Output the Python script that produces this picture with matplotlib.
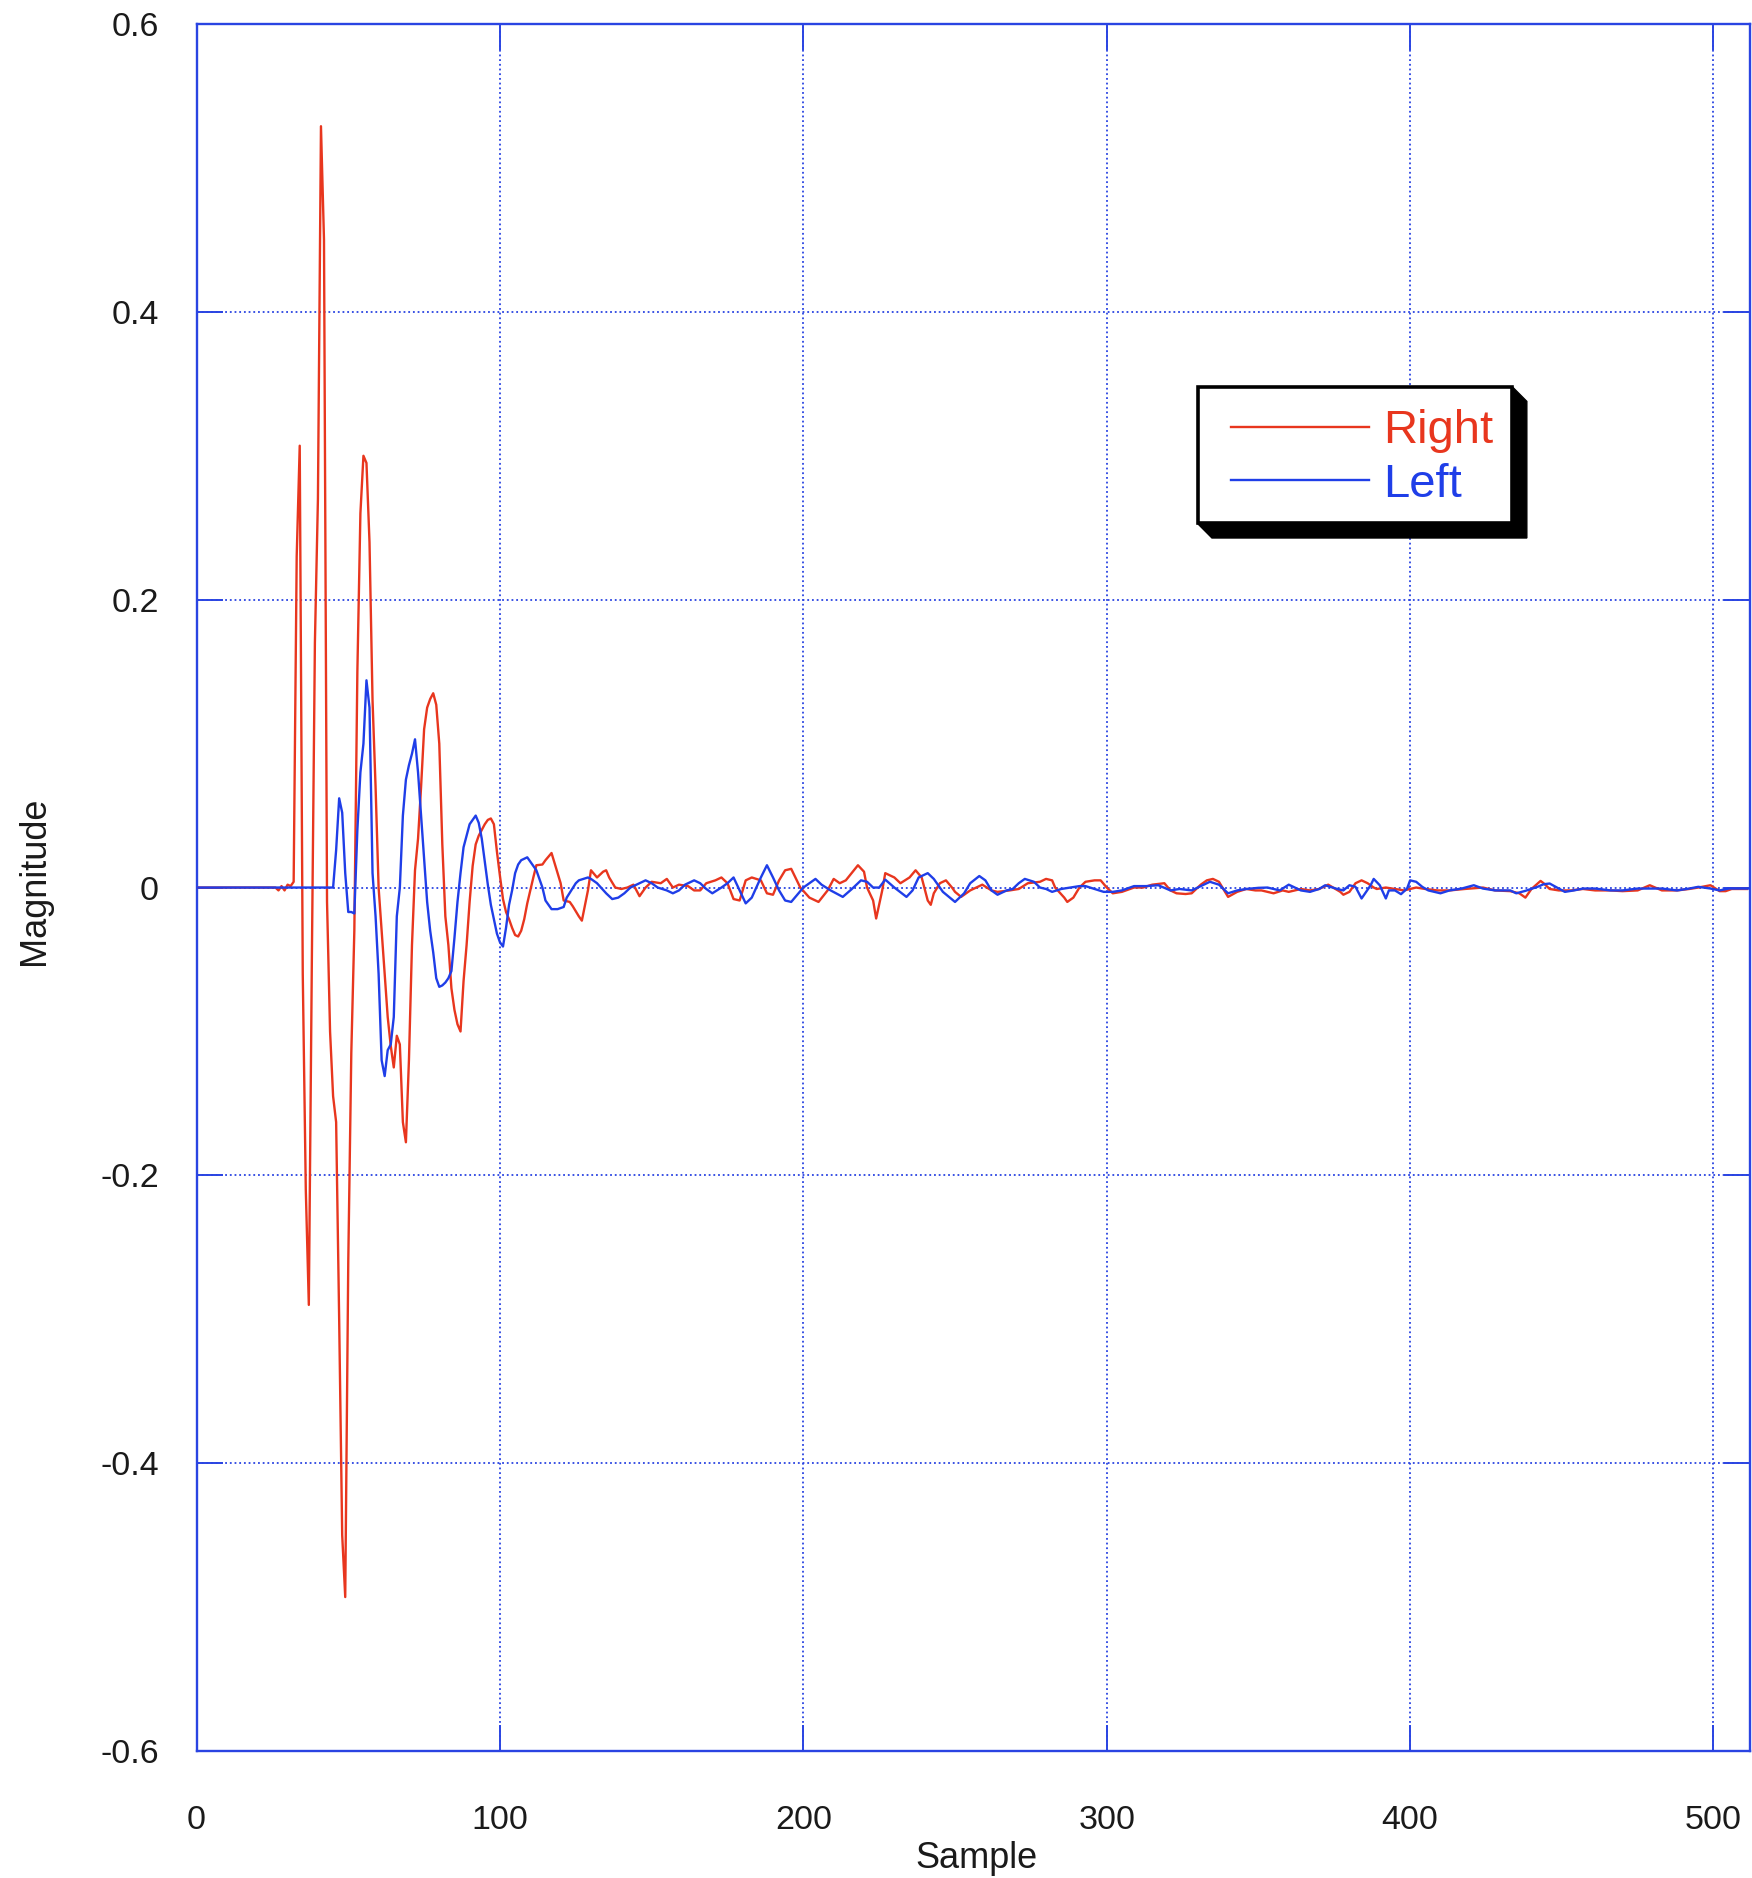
import matplotlib
matplotlib.use("Agg")
import matplotlib.pyplot as plt
from matplotlib.patches import Polygon, Rectangle

plt.rcParams['font.family'] = ['Liberation Sans', 'DejaVu Sans']
plt.rcParams['axes.unicode_minus'] = False

# ---------------- data (vertex points) ----------------
right_x = [0, 26, 27, 28, 29, 30, 31, 32, 33, 34, 35, 36, 37, 38, 39, 40, 41, 42, 43, 44,
           45, 46, 47, 48, 49, 50, 51, 52, 53, 54, 55, 56, 57, 58, 59, 60, 61, 62, 63, 64,
           65, 66, 67, 68, 69, 70, 71, 72, 73, 74, 75, 76, 77, 78, 79, 80, 81, 82, 83, 84,
           85, 86, 87, 88, 89, 90, 91, 92, 93, 94, 95, 96, 97, 98, 99, 100, 101, 102, 103, 104,
           105, 106, 107, 108, 109, 110, 111, 112, 114, 115, 117, 118, 120, 121, 123, 124, 126, 127, 129, 130,
           132, 134, 135, 136, 138, 140, 142, 144, 146, 148, 150, 153, 155, 157, 159, 162, 164, 166, 168, 171,
           173, 175, 177, 179, 181, 183, 186, 188, 190, 192, 194, 196, 199, 202, 205, 208, 210, 212, 214, 218,
           220, 221, 223, 224, 226, 227, 230, 232, 235, 237, 239, 241, 242, 243, 245, 247, 249, 250, 252, 255,
           257, 259, 262, 264, 268, 271, 274, 278, 280, 282, 283, 286, 287, 289, 291, 293, 296, 298, 300, 302,
           305, 309, 312, 315, 319, 321, 323, 326, 328, 331, 333, 335, 337, 339, 340, 343, 346, 349, 351, 355,
           358, 360, 364, 367, 370, 373, 377, 378, 380, 382, 384, 386, 388, 389, 392, 395, 398, 400, 402, 405,
           409, 413, 418, 424, 428, 433, 436, 438, 440, 443, 444, 446, 449, 453, 457, 461, 466, 470, 475, 479,
           483, 488, 492, 495, 499, 502, 504, 506, 511]
right_y = [0.0, 0.0, -0.002, 0.001, -0.002, 0.002, 0.001, 0.004, 0.23, 0.307, -0.06, -0.21, -0.29, -0.05, 0.17, 0.27, 0.529, 0.45, -0.01, -0.10,
           -0.145, -0.163, -0.30, -0.45, -0.493, -0.26, -0.115, -0.03, 0.15, 0.26, 0.30, 0.295, 0.24, 0.13, 0.07, 0.0, -0.03, -0.06, -0.09, -0.11,
           -0.125, -0.103, -0.109, -0.163, -0.177, -0.12, -0.04, 0.012, 0.034, 0.07, 0.11, 0.125, 0.131, 0.135, 0.127, 0.10, 0.03, -0.02, -0.04, -0.07,
           -0.085, -0.095, -0.1, -0.065, -0.04, -0.01, 0.015, 0.03, 0.036, 0.04, 0.044, 0.047, 0.048, 0.044, 0.025, 0.008, -0.008, -0.017, -0.022, -0.028,
           -0.033, -0.034, -0.03, -0.022, -0.011, -0.002, 0.007, 0.0155, 0.016, 0.019, 0.024, 0.017, 0.003, -0.009, -0.01, -0.013, -0.02, -0.023, -0.002, 0.012,
           0.007, 0.011, 0.012, 0.007, 0.0, -0.001, 0.0, 0.002, -0.006, 0.0, 0.004, 0.003, 0.006, 0.0, 0.002, 0.001, -0.002, -0.002, 0.003, 0.005,
           0.007, 0.003, -0.008, -0.009, 0.005, 0.007, 0.005, -0.004, -0.005, 0.005, 0.012, 0.013, 0.0, -0.007, -0.01, -0.002, 0.006, 0.003, 0.005, 0.0155,
           0.011, 0.0, -0.009, -0.0215, -0.002, 0.01, 0.007, 0.003, 0.007, 0.012, 0.007, -0.009, -0.012, -0.004, 0.003, 0.005, 0.0, -0.003, -0.0065, -0.002,
           0.0, 0.002, -0.002, -0.003, -0.002, -0.001, 0.003, 0.004, 0.006, 0.005, 0.0, -0.007, -0.01, -0.007, 0.0, 0.004, 0.005, 0.005, 0.0, -0.004,
           -0.003, 0.0, 0.0, 0.002, 0.003, -0.002, -0.004, -0.0045, -0.004, 0.002, 0.005, 0.006, 0.004, -0.003, -0.0065, -0.003, -0.001, -0.002, -0.002, -0.004,
           -0.002, -0.003, -0.001, -0.002, -0.001, 0.002, -0.003, -0.005, -0.003, 0.003, 0.005, 0.003, 0.0, -0.001, 0.0, -0.001, -0.002, -0.001, 0.0, -0.001,
           -0.002, -0.002, -0.001, 0.0, -0.002, -0.0025, -0.004, -0.007, -0.001, 0.0046, 0.003, -0.001, -0.002, -0.002, -0.001, -0.002, -0.002, -0.0025, -0.002, 0.0016,
           -0.002, -0.002, -0.001, 0.0, 0.0016, -0.0025, -0.0025, -0.001, -0.001]

left_x = [0, 45, 46, 47, 48, 49, 50, 51, 52, 53, 54, 55, 56, 57, 58, 59, 60, 61, 62, 63,
          64, 65, 66, 67, 68, 69, 70, 71, 72, 73, 74, 75, 76, 77, 78, 79, 80, 81, 82, 83,
          84, 85, 86, 87, 88, 89, 90, 91, 92, 93, 94, 95, 96, 97, 98, 99, 100, 101, 102, 103,
          104, 105, 106, 107, 109, 110, 112, 114, 115, 117, 119, 121, 122, 125, 126, 129, 130, 132, 135, 137,
          139, 141, 143, 146, 148, 150, 152, 155, 157, 159, 161, 164, 166, 168, 170, 173, 175, 177, 179, 181,
          183, 186, 188, 190, 192, 194, 196, 200, 204, 206, 209, 213, 216, 219, 221, 223, 225, 227, 230, 234,
          236, 238, 241, 243, 246, 248, 250, 253, 255, 258, 260, 262, 264, 267, 269, 271, 273, 276, 278, 280,
          282, 285, 288, 291, 293, 296, 299, 302, 305, 309, 313, 317, 321, 324, 328, 332, 334, 337, 340, 343,
          346, 350, 353, 357, 360, 364, 367, 370, 372, 376, 378, 380, 382, 384, 387, 388, 390, 392, 393, 395,
          397, 399, 400, 402, 404, 406, 410, 413, 417, 421, 424, 428, 433, 435, 438, 442, 444, 446, 448, 451,
          454, 457, 461, 466, 470, 475, 479, 483, 488, 492, 495, 499, 502, 505, 509, 512]
left_y = [0.0, 0.0, 0.026, 0.062, 0.052, 0.01, -0.017, -0.017, -0.018, 0.04, 0.08, 0.10, 0.144, 0.125, 0.01, -0.02, -0.06, -0.12, -0.131, -0.113,
          -0.109, -0.09, -0.02, 0.0, 0.05, 0.075, 0.085, 0.093, 0.103, 0.08, 0.05, 0.02, -0.01, -0.03, -0.045, -0.063, -0.069, -0.068, -0.066, -0.063,
          -0.058, -0.035, -0.01, 0.01, 0.028, 0.036, 0.044, 0.047, 0.05, 0.045, 0.034, 0.018, 0.002, -0.012, -0.022, -0.032, -0.038, -0.041, -0.028, -0.012,
          -0.002, 0.01, 0.016, 0.019, 0.021, 0.018, 0.012, 0.0, -0.009, -0.015, -0.015, -0.0135, -0.007, 0.003, 0.005, 0.007, 0.006, 0.003, -0.004, -0.008,
          -0.007, -0.004, 0.0, 0.003, 0.005, 0.003, 0.0, -0.002, -0.004, -0.002, 0.002, 0.005, 0.003, -0.001, -0.004, 0.0, 0.003, 0.007, -0.002, -0.011,
          -0.007, 0.007, 0.0155, 0.007, -0.002, -0.009, -0.01, 0.0, 0.006, 0.002, -0.002, -0.0065, -0.001, 0.005, 0.004, 0.0, 0.0, 0.0055, 0.0, -0.0065,
          -0.002, 0.007, 0.01, 0.006, -0.003, -0.0065, -0.01, -0.004, 0.003, 0.008, 0.005, -0.002, -0.005, -0.002, -0.001, 0.003, 0.006, 0.004, 0.0, -0.001,
          -0.003, -0.001, 0.0, 0.001, 0.001, -0.001, -0.003, -0.003, -0.002, 0.001, 0.001, 0.0016, -0.002, -0.001, -0.002, 0.002, 0.004, 0.002, -0.004, -0.002,
          -0.001, -0.0002, 0.0, -0.002, 0.002, -0.002, -0.003, -0.001, 0.0016, -0.001, -0.002, 0.0016, 0.0005, -0.0076, 0.0016, 0.006, 0.0016, -0.0076, -0.002, -0.002,
          -0.0046, -0.0007, 0.005, 0.004, 0.0005, -0.002, -0.004, -0.002, -0.0007, 0.0016, -0.0007, -0.002, -0.002, -0.004, -0.0023, 0.0005, 0.0023, 0.0028, 0.0005, -0.003,
          -0.002, -0.0007, -0.0007, -0.002, -0.002, -0.0007, -0.0007, -0.0007, -0.002, -0.0007, 0.0005, -0.0007, -0.002, -0.0007, -0.0007, -0.0007]

x_ticks = [0, 100, 200, 300, 400, 500]
x_tick_labels = ["0", "100", "200", "300", "400", "500"]
y_ticks = [0.6, 0.4, 0.2, 0.0, -0.2, -0.4, -0.6]
y_tick_labels = ["0.6", "0.4", "0.2", "0", "-0.2", "-0.4", "-0.6"]
series_labels = ["Right", "Left"]

# ---------------- styling ----------------
RED = '#e8361e'
BLUE = '#1f3ee8'
AXBLUE = '#2a44e2'
TXT = '#1a1a1a'

fig = plt.figure(figsize=(17.52, 18.78), dpi=100)
ax = fig.add_axes([0.1122, 0.0676, 0.8866, 0.9196])

ax.plot(right_x, right_y, color=RED, lw=1.7, label=series_labels[0], zorder=3)
ax.plot(left_x, left_y, color=BLUE, lw=1.7, label=series_labels[1], zorder=4)

ax.set_xlim(0, 512)
ax.set_ylim(-0.6, 0.6)
ax.set_xticks(x_ticks)
ax.set_xticklabels(x_tick_labels)
ax.set_yticks(y_ticks)
ax.set_yticklabels(y_tick_labels)

ax.grid(True, color=AXBLUE, linestyle=(0, (1, 1.6)), linewidth=1.3, zorder=1)
for s in ax.spines.values():
    s.set_color(AXBLUE)
    s.set_linewidth(1.7)

ax.tick_params(axis='both', direction='in', length=19, width=1.4, color=AXBLUE,
               top=True, right=True, labelsize=24.5, labelcolor=TXT)
ax.tick_params(axis='y', pad=27)
ax.tick_params(axis='x', pad=39)

ax.set_xlabel("Sample", fontsize=26, color=TXT)
ax.xaxis.label.set_verticalalignment('center')
ax.xaxis.set_label_coords(0.502, -0.0625)
ax.set_ylabel("Magnitude", fontsize=26, color=TXT)
ax.yaxis.label.set_verticalalignment('center')
ax.yaxis.set_label_coords(-0.1045, 0.504)

# ---- legend: box with a solid, bevelled drop shadow, then the entries ----
bx0, bx1, by0, by1 = 0.6444, 0.8471, 0.7108, 0.7899
sdx, sdy = 0.0093, 0.0084
shadow = Polygon([(bx1, by1), (bx1 + sdx, by1 - sdy), (bx1 + sdx, by0 - sdy),
                  (bx0 + sdx, by0 - sdy), (bx0, by0)],
                 closed=True, transform=ax.transAxes, facecolor='black',
                 edgecolor='black', lw=1, zorder=9)
box = Rectangle((bx0, by0), bx1 - bx0, by1 - by0, transform=ax.transAxes,
                facecolor='white', edgecolor='black', lw=2.6, zorder=9.5)
ax.add_patch(shadow)
ax.add_patch(box)

leg = ax.legend(loc='center left', bbox_to_anchor=(0.6659, 0.7488), borderaxespad=0,
                fontsize=34, labelcolor='linecolor', handlelength=2.92,
                handletextpad=0.3, labelspacing=0.2, borderpad=0.0,
                frameon=False)
leg.set_zorder(10)

fig.savefig("out.png", dpi=100, facecolor='white')
